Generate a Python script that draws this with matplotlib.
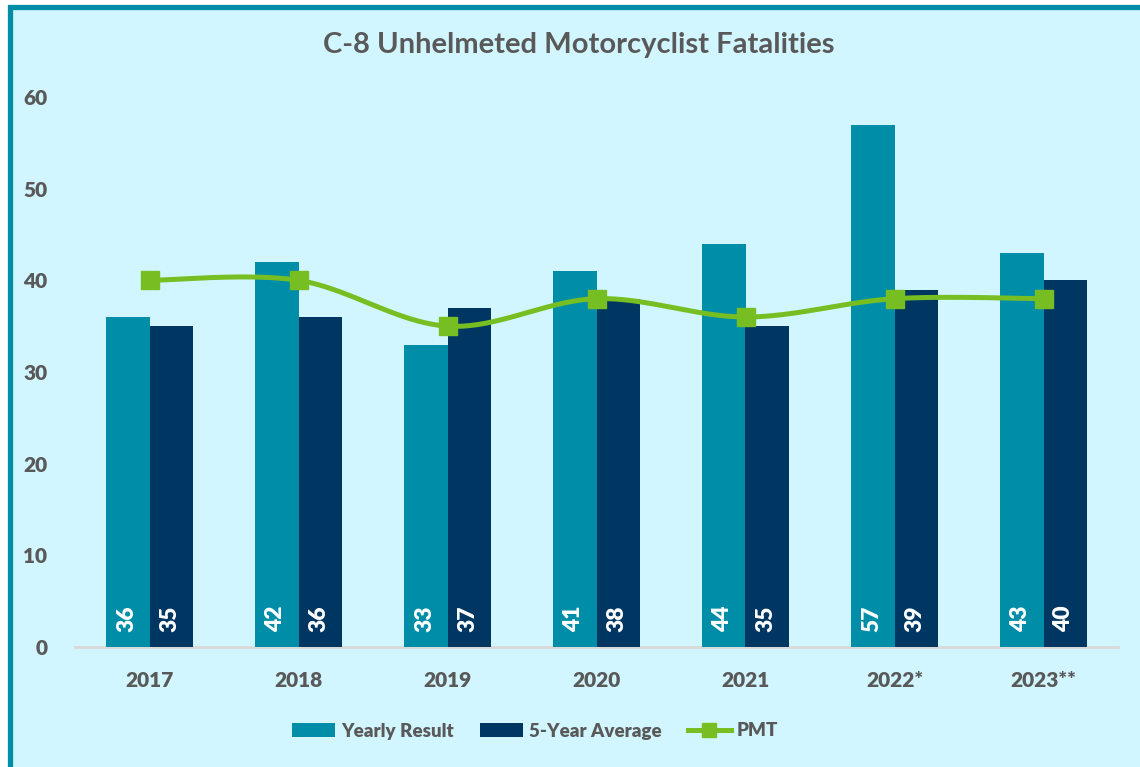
import numpy as np
import matplotlib.pyplot as plt
from matplotlib.patches import Rectangle, Patch
from matplotlib.lines import Line2D

plt.rcParams['font.family'] = ['Lato', 'DejaVu Sans']
plt.rcParams['font.weight'] = 'heavy'

years = ["2017", "2018", "2019", "2020", "2021", "2022*", "2023**"]
yearly = [36, 42, 33, 41, 44, 57, 43]
avg5 = [35, 36, 37, 38, 35, 39, 40]
pmt = [40, 40, 35, 38, 36, 38, 38]

teal = "#008DA8"
navy = "#003662"
green = "#77BE22"
bg = "#D2F6FF"
gray = "#595959"

fig = plt.figure(figsize=(11.4, 7.67), dpi=100)
fig.patch.set_facecolor("white")
# chart-area box with teal border (right/bottom run off the image)
fig.patches.append(Rectangle((10.5 / 1140, -0.05), 1.2, 1 - 6.5 / 767 + 0.05,
                             transform=fig.transFigure, facecolor=bg,
                             edgecolor=teal, linewidth=3.8, zorder=-1))

ax = fig.add_axes([75 / 1140, 1 - 647 / 767, (1118 - 75) / 1140, (647 - 97) / 767])
ax.set_facecolor("none")

x = np.arange(len(years))
w = 0.29
b1 = ax.bar(x - w / 2, yearly, w, color=teal, zorder=2)
b2 = ax.bar(x + w / 2, avg5, w, color=navy, zorder=2)

for bars, vals in [(b1, yearly), (b2, avg5)]:
    for r, v in zip(bars, vals):
        ax.annotate(str(v), (r.get_x() + r.get_width() / 2, 0), xytext=(-1, 11),
                    textcoords="offset points", rotation=90, ha="center", va="bottom",
                    color="white", fontsize=16.5, fontweight="heavy", zorder=4)

# smoothed PMT line (Catmull-Rom through the points, like Excel's smooth line)
px = x.astype(float)
py = np.array(pmt, dtype=float)
sx, sy = [], []
for i in range(len(px) - 1):
    p0 = i - 1 if i > 0 else i
    p3 = i + 2 if i + 2 < len(px) else i + 1
    c1x = px[i] + (px[i + 1] - px[p0]) / 6
    c1y = py[i] + (py[i + 1] - py[p0]) / 6
    c2x = px[i + 1] - (px[p3] - px[i]) / 6
    c2y = py[i + 1] - (py[p3] - py[i]) / 6
    t = np.linspace(0, 1, 40)
    sx.extend((1 - t) ** 3 * px[i] + 3 * (1 - t) ** 2 * t * c1x + 3 * (1 - t) * t ** 2 * c2x + t ** 3 * px[i + 1])
    sy.extend((1 - t) ** 3 * py[i] + 3 * (1 - t) ** 2 * t * c1y + 3 * (1 - t) * t ** 2 * c2y + t ** 3 * py[i + 1])
ax.plot(sx, sy, color=green, lw=3.6, zorder=3, solid_capstyle="round")
ax.plot(px, py, ls="none", marker="s", ms=13.5, color=green, zorder=3)

ax.set_xlim(-0.5, len(years) - 0.5)
ax.set_ylim(0, 60)
ax.set_yticks(range(0, 61, 10))
ax.set_xticks(x)
ax.set_xticklabels(years)
ax.tick_params(axis="both", length=0, colors=gray, labelsize=15)
ax.tick_params(axis="y", pad=20)
ax.tick_params(axis="x", pad=17)
for lbl in ax.get_xticklabels() + ax.get_yticklabels():
    lbl.set_fontweight("heavy")
for s in ["top", "right", "left"]:
    ax.spines[s].set_visible(False)
ax.spines["bottom"].set_color("#D9D9D9")
ax.spines["bottom"].set_linewidth(2)
ax.spines["bottom"].set_zorder(1)

fig.text(0.508, 1 - 45 / 767, "C-8 Unhelmeted Motorcyclist Fatalities",
         ha="center", va="center", fontsize=21, fontweight="bold", color=gray)

handles = [Patch(facecolor=teal), Patch(facecolor=navy),
           Line2D([], [], color=green, lw=3.6, marker="s", ms=10)]
fig.legend(handles, ["Yearly Result", "5-Year Average", "PMT"], loc="center",
           bbox_to_anchor=(535 / 1140, 1 - 731 / 767), ncol=3, frameon=False,
           prop={"family": ["Lato", "DejaVu Sans"], "weight": "heavy", "size": 13.5},
           labelcolor=gray, handlelength=2.3, handletextpad=0.3,
           columnspacing=1.4)

fig.savefig("out.png", dpi=100)
